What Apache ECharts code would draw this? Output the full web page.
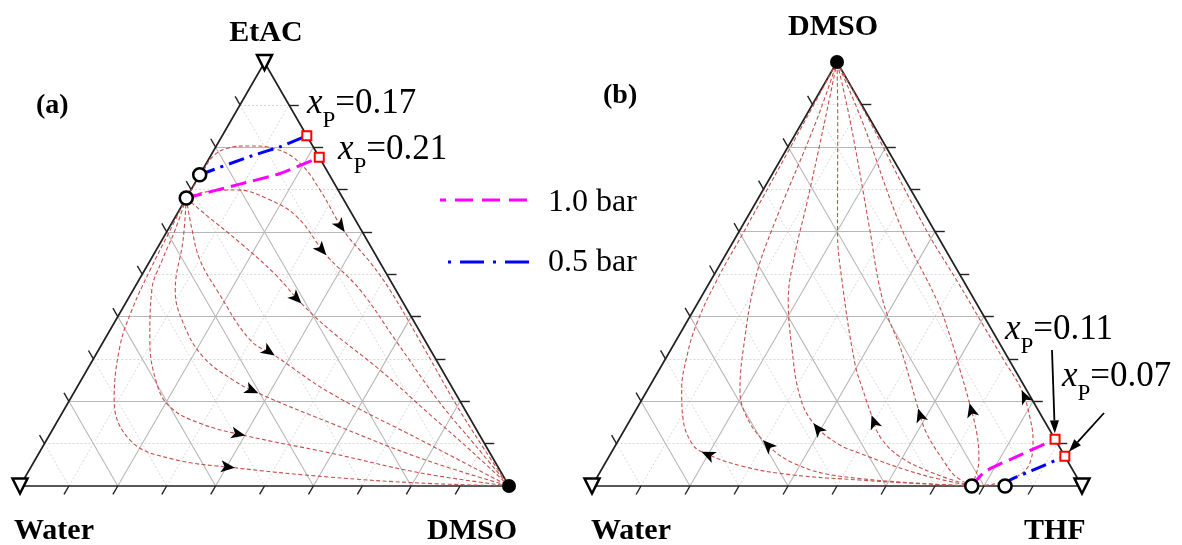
<!DOCTYPE html>
<html>
<head>
<meta charset="utf-8">
<title>Residue curve maps</title>
<script src="https://cdn.jsdelivr.net/npm/echarts@6.0.0/dist/echarts.min.js"></script>
<style>
  html, body { margin: 0; padding: 0; background: #fff; }
  #main { width: 1182px; height: 545px; }
</style>
</head>
<body>
<div id="main"></div>
<script>
// every point is a composition [right vertex, top vertex]
// (a) right = DMSO, top = EtAC   (b) right = THF, top = DMSO
var ticks = [0.1, 0.2, 0.3, 0.4, 0.5, 0.6, 0.7, 0.8, 0.9];

var residueA = [
  [[0, 0.68], [0.003, 0.74], [0.005, 0.778], [0.024, 0.797], [0.066, 0.803], [0.128, 0.795], [0.192, 0.762], [0.264, 0.699], [0.364, 0.6], [0.451, 0.529], [0.525, 0.463], [0.668, 0.321], [0.792, 0.196], [0.908, 0.085], [1, 0]],
  [[0, 0.68], [0.031, 0.694], [0.094, 0.699], [0.165, 0.679], [0.248, 0.636], [0.354, 0.545], [0.464, 0.463], [0.595, 0.345], [0.761, 0.196], [0.882, 0.097], [1, 0]],
  [[0, 0.68], [0.062, 0.639], [0.165, 0.573], [0.273, 0.499], [0.36, 0.431], [0.45, 0.368], [0.599, 0.274], [0.755, 0.168], [0.878, 0.085], [1, 0]],
  [[0, 0.68], [0.05, 0.604], [0.101, 0.534], [0.171, 0.463], [0.298, 0.345], [0.367, 0.308], [0.524, 0.22], [0.764, 0.109], [1, 0]],
  [[0, 0.68], [0.043, 0.581], [0.086, 0.463], [0.142, 0.384], [0.222, 0.305], [0.311, 0.25], [0.378, 0.219], [0.56, 0.149], [0.785, 0.066], [1, 0]],
  [[0, 0.68], [0.015, 0.604], [0.024, 0.534], [0.038, 0.463], [0.093, 0.345], [0.158, 0.243], [0.213, 0.187], [0.294, 0.148], [0.401, 0.119], [0.595, 0.078], [0.803, 0.031], [1, 0]],
  [[0, 0.68], [0.005, 0.604], [0.011, 0.51], [0.021, 0.416], [0.04, 0.328], [0.091, 0.203], [0.174, 0.106], [0.279, 0.064], [0.418, 0.043], [0.623, 0.021], [0.815, 0.007], [1, 0]]
];
var arrowIdxA = [8, 5, 4, 5, 6, 8, 8];

var residueB = [
  [[0.775, 0], [0.624, 0.008], [0.54, 0.014], [0.398, 0.026], [0.286, 0.046], [0.183, 0.081], [0.153, 0.101], [0.108, 0.156], [0.07, 0.226], [0.041, 0.305], [0.022, 0.384], [0.012, 0.486], [0.01, 0.604], [0.004, 0.863], [0, 1]],
  [[0.775, 0], [0.502, 0.022], [0.384, 0.054], [0.295, 0.108], [0.227, 0.171], [0.189, 0.226], [0.145, 0.329], [0.09, 0.486], [0.065, 0.604], [0.027, 0.863], [0, 1]],
  [[0.775, 0], [0.655, 0.028], [0.508, 0.077], [0.449, 0.101], [0.378, 0.148], [0.319, 0.211], [0.243, 0.329], [0.181, 0.439], [0.14, 0.549], [0.105, 0.667], [0.044, 0.863], [0, 1]],
  [[0.775, 0], [0.682, 0.03], [0.594, 0.069], [0.53, 0.116], [0.487, 0.167], [0.44, 0.226], [0.392, 0.289], [0.267, 0.486], [0.199, 0.604], [0.07, 0.863], [0, 1]],
  [[0.775, 0], [0.729, 0.024], [0.686, 0.061], [0.621, 0.124], [0.574, 0.183], [0.524, 0.25], [0.464, 0.329], [0.398, 0.407], [0.341, 0.486], [0.265, 0.604], [0.095, 0.863], [0, 1]],
  [[0.775, 0], [0.772, 0.019], [0.759, 0.061], [0.726, 0.12], [0.673, 0.195], [0.614, 0.274], [0.555, 0.352], [0.484, 0.439], [0.331, 0.604], [0.119, 0.863], [0, 1]],
  [[0.775, 0], [0.82, 0.005], [0.858, 0.024], [0.866, 0.057], [0.846, 0.108], [0.814, 0.16], [0.764, 0.226], [0.692, 0.297], [0.612, 0.376], [0.508, 0.479], [0.38, 0.604], [0.134, 0.863], [0, 1]]
];
var arrowIdxB = [5, 3, 4, 4, 4, 4, 6];

var bar10A = [[0, 0.68], [0.088, 0.711], [0.163, 0.738], [0.224, 0.776]];
var bar05A = [[0, 0.735], [0.081, 0.778], [0.131, 0.801], [0.173, 0.827]];
var bar10B = [[0.775, 0], [0.785, 0.034], [0.837, 0.073], [0.89, 0.11]];
var bar05B = [[0.843, 0], [0.846, 0.014], [0.884, 0.039], [0.93, 0.07]];

var azeoA = [[0, 0.68], [0, 0.735]];
var azeoB = [[0.775, 0], [0.843, 0]];
var productA = [[0.173, 0.827], [0.224, 0.776]];
var productB = [[0.89, 0.11], [0.93, 0.07]];
var vertexOpenA = [[0, 0], [0, 1]];
var vertexFilledA = [[1, 0]];
var vertexOpenB = [[0, 0], [1, 0]];
var vertexFilledB = [[0, 1]];

var SERIF = '"Liberation Serif", "Times New Roman", serif';
var chart = echarts.init(document.getElementById('main'));

function tc(p) { return [p[0] + p[1] / 2, p[1]]; }

function seg(a, b) { return { coords: [tc(a), tc(b)] }; }

function panel(g, curves, b10, b05, azeo, prod, vOpen, vFilled) {
  var major = [], minor = [], tk = [];
  var L = 0.02;
  ticks.forEach(function (t, i) {
    var list = i % 2 === 1 ? major : minor;
    list.push(seg([0, t], [1 - t, t]));
    list.push(seg([t, 0], [t, 1 - t]));
    list.push(seg([0, 1 - t], [1 - t, 0]));
    tk.push(seg([t, 0], [t, -L]));
    tk.push(seg([1 - t, t], [1 - t + L, t]));
    tk.push(seg([0, t], [-L, t + L]));
  });
  var ax = { xAxisIndex: g, yAxisIndex: g };
  var s = [];
  s.push(Object.assign({ type: 'lines', coordinateSystem: 'cartesian2d', data: minor, silent: true, clip: false, z: 1,
    lineStyle: { color: '#d8d8d8', width: 1, type: [2, 2], opacity: 1 } }, ax));
  s.push(Object.assign({ type: 'lines', coordinateSystem: 'cartesian2d', data: major, silent: true, clip: false, z: 1,
    lineStyle: { color: '#b8b8b8', width: 1.1, opacity: 1 } }, ax));
  s.push(Object.assign({ type: 'lines', coordinateSystem: 'cartesian2d', data: tk, silent: true, clip: false, z: 2,
    lineStyle: { color: '#222', width: 1.4, opacity: 1 } }, ax));
  s.push(Object.assign({ type: 'line', data: [[0, 0], [1, 0], [0, 1], [0, 0]].map(tc), showSymbol: false, symbol: 'none',
    clip: false, silent: true, z: 2, lineStyle: { color: '#222', width: 1.7 } }, ax));
  curves.forEach(function (c) {
    s.push(Object.assign({ type: 'line', data: c.map(tc), smooth: 0.4, showSymbol: false, symbol: 'none',
      clip: false, silent: true, z: 3, lineStyle: { color: '#c4504b', width: 1.1, type: [4, 2.5] } }, ax));
  });
  s.push(Object.assign({ type: 'line', data: b10.map(tc), smooth: 0.2, showSymbol: false, symbol: 'none',
    clip: false, silent: true, z: 4, lineStyle: { color: '#ff00ff', width: 3, type: [16, 7] } }, ax));
  s.push(Object.assign({ type: 'line', data: b05.map(tc), smooth: 0.2, showSymbol: false, symbol: 'none',
    clip: false, silent: true, z: 4, lineStyle: { color: '#0000ff', width: 3, type: [16, 6, 3, 6] } }, ax));
  s.push(Object.assign({ type: 'scatter', data: azeo.map(tc), symbol: 'circle', symbolSize: 13, clip: false, silent: true, z: 6,
    itemStyle: { color: '#fff', borderColor: '#000', borderWidth: 2.6, opacity: 1 } }, ax));
  s.push(Object.assign({ type: 'scatter', data: prod.map(tc), symbol: 'rect', symbolSize: 9, clip: false, silent: true, z: 6,
    itemStyle: { color: '#fff', borderColor: '#ff0000', borderWidth: 2, opacity: 1 } }, ax));
  s.push(Object.assign({ type: 'scatter', data: vOpen.map(tc), symbol: 'triangle', symbolRotate: 180, symbolSize: 15,
    clip: false, silent: true, z: 6, itemStyle: { color: '#fff', borderColor: '#000', borderWidth: 2.5, opacity: 1 } }, ax));
  s.push(Object.assign({ type: 'scatter', data: vFilled.map(tc), symbol: 'circle', symbolSize: 14,
    clip: false, silent: true, z: 6, itemStyle: { color: '#000', opacity: 1 } }, ax));
  return s;
}

function axes(g) {
  return {
    x: { type: 'value', gridIndex: g, min: 0, max: 1, show: false },
    y: { type: 'value', gridIndex: g, min: -0.05, max: 1, show: false }
  };
}

var a0 = axes(0), a1 = axes(1);
var baseSeries = panel(0, residueA, bar10A, bar05A, azeoA, productA, vertexOpenA, vertexFilledA)
  .concat(panel(1, residueB, bar10B, bar05B, azeoB, productB, vertexOpenB, vertexFilledB));

chart.setOption({
  animation: false,
  grid: [
    { left: 20, top: 62.5, width: 489, height: 423.5 * 1.05, containLabel: false, outerBoundsMode: 'none' },
    { left: 592, top: 62, width: 490, height: 424 * 1.05, containLabel: false, outerBoundsMode: 'none' }
  ],
  xAxis: [a0.x, a1.x],
  yAxis: [a0.y, a1.y],
  series: baseSeries
});

function arrowSeries(g, curves, idx) {
  var data = curves.map(function (c, k) {
    var i = idx[k];
    var p0 = chart.convertToPixel({ gridIndex: g }, tc(c[i - 1]));
    var p1 = chart.convertToPixel({ gridIndex: g }, tc(c[i + 1]));
    var ang = Math.atan2(-(p1[0] - p0[0]), -(p1[1] - p0[1])) * 180 / Math.PI;
    return { value: tc(c[i]), symbolRotate: ang };
  });
  return { type: 'scatter', xAxisIndex: g, yAxisIndex: g, data: data, symbol: 'arrow', symbolSize: [9, 14],
    clip: false, silent: true, z: 5, itemStyle: { color: '#000', opacity: 1 } };
}

function txt(x, y, text, size, bold, align) {
  return { type: 'text', z: 10, style: { x: x, y: y, text: text, fill: '#000',
    font: (bold ? 'bold ' : '') + size + 'px ' + SERIF,
    align: align || 'left', verticalAlign: 'middle', textAlign: align || 'left', textVerticalAlign: 'middle' } };
}

var xpRich = {
  i: { fontFamily: SERIF, fontStyle: 'italic', fontSize: 35, lineHeight: 46, verticalAlign: 'top', color: '#000' },
  s: { fontFamily: SERIF, fontSize: 23, lineHeight: 46, verticalAlign: 'bottom', color: '#000' },
  n: { fontFamily: SERIF, fontSize: 35, lineHeight: 46, verticalAlign: 'top', color: '#000' }
};
function xp(x, top, val) {
  return { type: 'text', z: 10, style: { x: x, y: top, text: '{i|x}{s|P}{n|=' + val + '}', rich: xpRich,
    align: 'left', verticalAlign: 'top', textAlign: 'left', textVerticalAlign: 'top' } };
}

function pointer(from, toData, g) {
  var to = chart.convertToPixel({ gridIndex: g }, tc(toData));
  var dx = to[0] - from[0], dy = to[1] - from[1];
  var len = Math.sqrt(dx * dx + dy * dy);
  var ux = dx / len, uy = dy / len;
  var tip = [to[0] - ux * 6, to[1] - uy * 6];
  var base = [tip[0] - ux * 13, tip[1] - uy * 13];
  return [
    { type: 'line', z: 10, shape: { x1: from[0], y1: from[1], x2: base[0], y2: base[1] }, style: { stroke: '#000', lineWidth: 1.8 } },
    { type: 'polygon', z: 10, shape: { points: [tip, [base[0] - uy * 4.5, base[1] + ux * 4.5], [base[0] + uy * 4.5, base[1] - ux * 4.5]] },
      style: { fill: '#000' } }
  ];
}

var graphics = [
  txt(36, 106, '(a)', 28, true),
  txt(266, 33, 'EtAC', 30, true, 'center'),
  txt(14, 531, 'Water', 30, true),
  txt(427, 531, 'DMSO', 30, true),
  txt(603, 96, '(b)', 28, true),
  txt(833, 27, 'DMSO', 30, true, 'center'),
  txt(591, 531, 'Water', 30, true),
  txt(1024, 531, 'THF', 30, true),
  txt(548, 203, '1.0 bar', 32, false),
  txt(548, 263, '0.5 bar', 32, false),
  { type: 'line', z: 10, shape: { x1: 440, y1: 200, x2: 531, y2: 200 }, style: { stroke: '#ff00ff', lineWidth: 3, lineDash: [18, 9], lineDashOffset: 12 } },
  { type: 'line', z: 10, shape: { x1: 448, y1: 262, x2: 531, y2: 262 }, style: { stroke: '#0000ff', lineWidth: 3, lineDash: [3, 9, 24, 9] } },
  xp(307, 86, '0.17'),
  xp(338, 132, '0.21'),
  xp(1005, 312, '0.11'),
  xp(1062, 359, '0.07')
].concat(pointer([1052, 350], productB[0], 1), pointer([1104, 413], productB[1], 1));

chart.setOption({
  series: baseSeries.concat([arrowSeries(0, residueA, arrowIdxA), arrowSeries(1, residueB, arrowIdxB)]),
  graphic: graphics
});
</script>
</body>
</html>
